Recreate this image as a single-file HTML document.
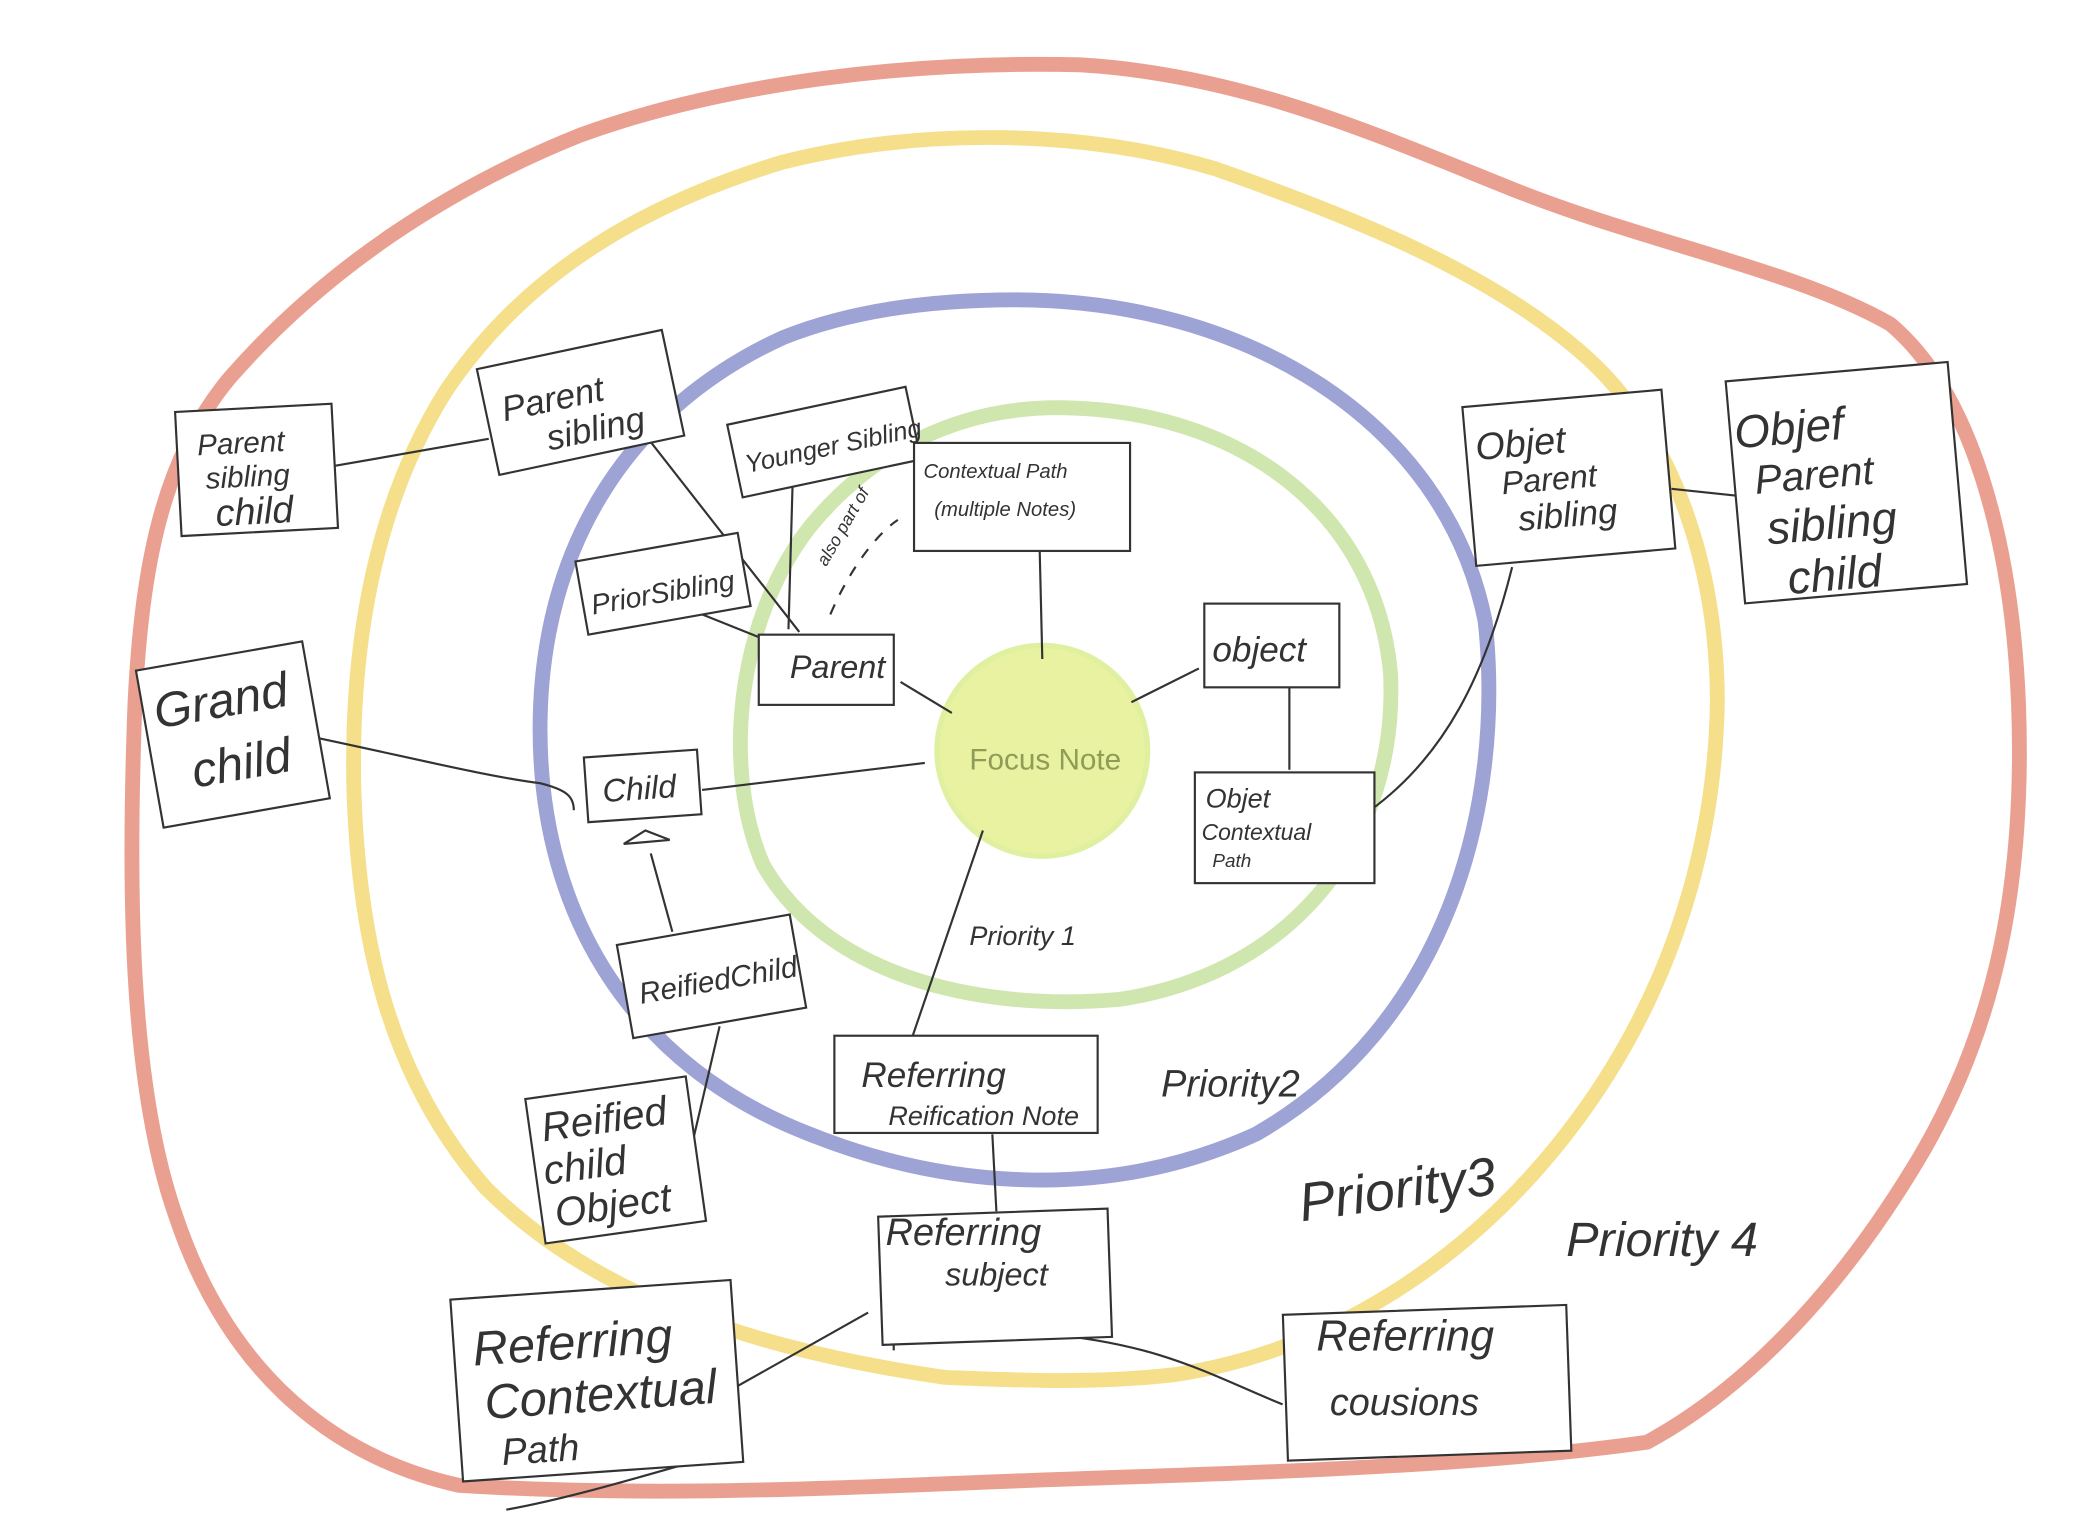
<!DOCTYPE html>
<html><head><meta charset="utf-8"><style>
html,body{margin:0;padding:0;background:#fff;}
svg{display:block}
text{font-family:"Liberation Sans",sans-serif;fill:#333;}
</style></head><body>
<svg width="2090" height="1534" viewBox="0 0 1548 1136" preserveAspectRatio="none" xmlns="http://www.w3.org/2000/svg">
<g fill="none" stroke-linecap="round" stroke-linejoin="round">
<path d="M340,1100 C250,1080 170,1020 130,900 C95,800 95,650 100,520 C105,420 120,340 170,280 C240,200 330,140 430,100 C540,60 680,45 800,48 C920,55 1020,100 1120,140 C1220,180 1330,200 1400,240 C1460,290 1490,400 1495,520 C1500,650 1480,760 1420,860 C1360,960 1290,1030 1220,1068 C1100,1085 950,1090 800,1095 C650,1100 500,1110 340,1100 Z" stroke="#eaa090" stroke-width="11"/>
<path d="M700,1020 C560,1000 440,960 360,880 C290,800 265,700 262,580 C260,470 280,370 330,290 C390,200 480,150 580,120 C680,95 800,95 900,125 C1000,160 1100,200 1170,260 C1240,320 1272,420 1272,520 C1270,640 1230,750 1160,840 C1090,930 990,1000 870,1018 C810,1025 750,1022 700,1020 Z" stroke="#f5df8a" stroke-width="11"/>
<path d="M752,222 C920,222 1070,310 1100,460 C1115,600 1070,760 930,840 C820,890 700,880 600,840 C470,790 400,680 400,540 C400,400 470,300 580,250 C630,230 690,222 752,222 Z" stroke="#9ea3d5" stroke-width="11"/>
<path d="M790,302 C920,305 1020,380 1030,500 C1035,620 960,720 830,740 C720,750 610,720 565,640 C535,570 545,460 600,390 C645,335 710,300 790,302 Z" stroke="#cfe7ae" stroke-width="11"/>
</g>
<circle cx="772" cy="556" r="78" fill="#e8f2a0" stroke="#dff0a0" stroke-width="4"/>
<text x="718" y="570" font-size="22" style="fill:#8f9c58">Focus Note</text>
<g fill="none" stroke="#333" stroke-width="1.6">
<line x1="248" y1="345" x2="362" y2="325"/>
<line x1="470" y1="312" x2="592" y2="468"/>
<line x1="587" y1="360" x2="584" y2="466"/>
<path d="M615,455 C630,420 650,395 665,385" stroke-dasharray="8,8"/>
<line x1="520" y1="455" x2="570" y2="475"/>
<line x1="770" y1="405" x2="772" y2="488"/>
<line x1="667" y1="505" x2="705" y2="528"/>
<line x1="838" y1="520" x2="888" y2="495"/>
<line x1="955" y1="505" x2="955" y2="570"/>
<line x1="520" y1="585" x2="685" y2="565"/>
<path d="M228,545 C300,560 360,575 400,580 C420,585 425,590 425,600"/>
<line x1="482" y1="632" x2="498" y2="690"/>
<path d="M462,625 L478,615 L496,622 Z"/>
<line x1="533" y1="760" x2="512" y2="850"/>
<line x1="728" y1="615" x2="675" y2="770"/>
<path d="M1120,420 C1100,500 1070,560 1015,600"/>
<line x1="1238" y1="362" x2="1295" y2="368"/>
<line x1="735" y1="840" x2="738" y2="897"/>
<line x1="643" y1="972" x2="540" y2="1030"/>
<path d="M775,988 C860,995 900,1020 950,1040"/>
<line x1="660" y1="900" x2="662" y2="1000"/>
<path d="M540,1075 C470,1095 420,1110 375,1118"/>
</g>
<g fill="#fff" stroke="#333" stroke-width="1.6">
<rect x="132" y="302" width="116" height="92" transform="rotate(-3 190 348)"/>
<rect x="360" y="258" width="140" height="80" transform="rotate(-12 430 298)"/>
<rect x="543" y="300" width="135" height="55" transform="rotate(-12 610 328)"/>
<rect x="677" y="328" width="160" height="80"/>
<rect x="430" y="405" width="122" height="55" transform="rotate(-10 490 432)"/>
<rect x="562" y="470" width="100" height="52"/>
<rect x="892" y="447" width="100" height="62"/>
<rect x="1088" y="295" width="148" height="118" transform="rotate(-5 1160 354)"/>
<rect x="1285" y="275" width="165" height="165" transform="rotate(-5 1367 357)"/>
<rect x="110" y="485" width="125" height="118" transform="rotate(-10 172 544)"/>
<rect x="434" y="558" width="84" height="48" transform="rotate(-4 476 582)"/>
<rect x="885" y="572" width="133" height="82"/>
<rect x="462" y="688" width="130" height="70" transform="rotate(-10 527 723)"/>
<rect x="396" y="805" width="120" height="108" transform="rotate(-8 456 859)"/>
<rect x="618" y="767" width="195" height="72"/>
<rect x="652" y="898" width="170" height="95" transform="rotate(-2 737 945)"/>
<rect x="338" y="955" width="208" height="135" transform="rotate(-4 442 1022)"/>
<rect x="952" y="970" width="210" height="108" transform="rotate(-2 1057 1024)"/>
</g>
<g style="font-style:italic">
<text font-size="22" transform="rotate(-3 190 348)"><tspan x="147" y="335">Parent</tspan><tspan x="152" y="360">sibling</tspan><tspan x="158" y="388" font-size="28">child</tspan></text>
<text font-size="26" transform="rotate(-12 430 298)"><tspan x="372" y="300">Parent</tspan><tspan x="400" y="328">sibling</tspan></text>
<text x="550" y="338" font-size="19" transform="rotate(-12 610 328)">Younger Sibling</text>
<text font-size="15"><tspan x="684" y="354">Contextual Path</tspan><tspan x="692" y="382">(multiple Notes)</tspan></text>
<text x="612" y="420" font-size="13" transform="rotate(-60 612 420)">also part of</text>
<text x="436" y="446" font-size="21" transform="rotate(-10 490 432)">PriorSibling</text>
<text x="585" y="502" font-size="24">Parent</text>
<text x="898" y="490" font-size="26">object</text>
<text font-size="28" transform="rotate(-5 1160 354)"><tspan x="1095" y="335">Objet</tspan><tspan x="1112" y="362" font-size="24">Parent</tspan><tspan x="1122" y="390" font-size="26">sibling</tspan></text>
<text font-size="34" transform="rotate(-5 1367 357)"><tspan x="1288" y="325">Objef</tspan><tspan x="1300" y="360" font-size="30">Parent</tspan><tspan x="1306" y="398">sibling</tspan><tspan x="1318" y="436">child</tspan></text>
<text font-size="36" transform="rotate(-10 172 544)"><tspan x="118" y="530">Grand</tspan><tspan x="138" y="578">child</tspan></text>
<text x="446" y="592" font-size="24" transform="rotate(-4 476 582)">Child</text>
<text font-size="20"><tspan x="893" y="598">Objet</tspan><tspan x="890" y="622" font-size="17">Contextual</tspan><tspan x="898" y="642" font-size="14">Path</tspan></text>
<text x="472" y="734" font-size="22" transform="rotate(-10 527 723)">ReifiedChild</text>
<text font-size="30" transform="rotate(-8 456 859)"><tspan x="405" y="838">Reified</tspan><tspan x="402" y="870">child</tspan><tspan x="406" y="902">Object</tspan></text>
<text font-size="26"><tspan x="638" y="805">Referring</tspan><tspan x="658" y="833" font-size="20">Reification Note</tspan></text>
<text font-size="28"><tspan x="656" y="922">Referring</tspan><tspan x="700" y="952" font-size="24">subject</tspan></text>
<text font-size="36" transform="rotate(-4 442 1022)"><tspan x="352" y="1005">Referring</tspan><tspan x="358" y="1045">Contextual</tspan><tspan x="368" y="1080" font-size="28">Path</tspan></text>
<text font-size="32"><tspan x="975" y="1000">Referring</tspan><tspan x="985" y="1048" font-size="28">cousions</tspan></text>
<text x="718" y="700" font-size="20">Priority 1</text>
<text x="860" y="812" font-size="28">Priority2</text>
<text x="960" y="895" font-size="40" transform="rotate(-8 1030 870)">Priority3</text>
<text x="1160" y="930" font-size="36">Priority 4</text>
</g>
</svg>
</body></html>
